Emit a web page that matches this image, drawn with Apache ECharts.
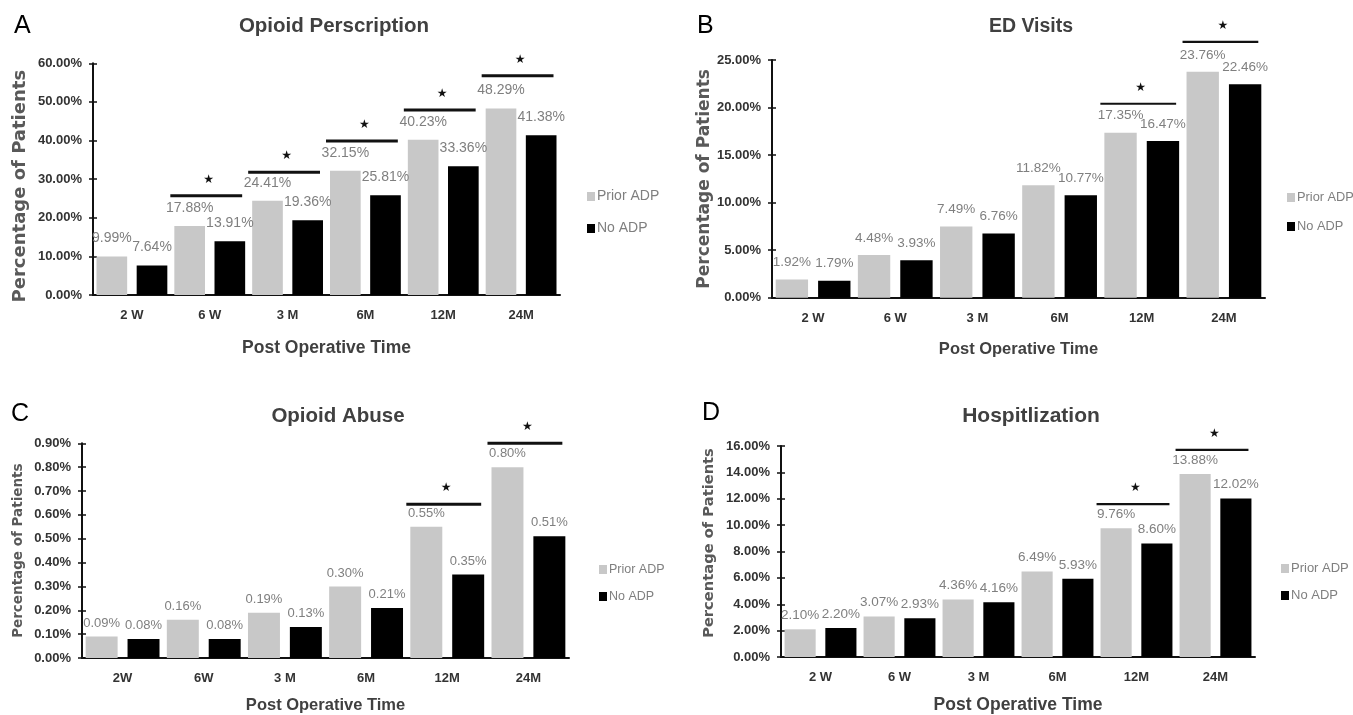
<!DOCTYPE html>
<html>
<head>
<meta charset="utf-8">
<script src="https://cdn.jsdelivr.net/npm/echarts@6/dist/echarts.min.js"></script>
<style>
html,body{margin:0;padding:0;background:#fff;}
#chart{width:1353px;height:715px;}
</style>
</head>
<body>
<div id="chart"></div>
<script>
// ---------- data ----------
const categories = ['2 W', '6 W', '3 M', '6M', '12M', '24M'];
const categoriesC = ['2W', '6W', '3 M', '6M', '12M', '24M'];
const seriesNames = ['Prior ADP', 'No ADP'];

const titles = ['Opioid Perscription', 'ED Visits', 'Opioid Abuse', 'Hospitlization'];
const panelLetters = ['A', 'B', 'C', 'D'];

const rxPrior = [9.99, 17.88, 24.41, 32.15, 40.23, 48.29];
const rxNone = [7.64, 13.91, 19.36, 25.81, 33.36, 41.38];

const edPrior = [1.92, 4.48, 7.49, 11.82, 17.35, 23.76];
const edNone = [1.79, 3.93, 6.76, 10.77, 16.47, 22.46];

const abusePrior = [0.09, 0.16, 0.19, 0.30, 0.55, 0.80];
const abuseNone = [0.08, 0.08, 0.13, 0.21, 0.35, 0.51];

const hospPrior = [2.10, 3.07, 4.36, 6.49, 9.76, 13.88];
const hospNone = [2.20, 2.93, 4.16, 5.93, 8.60, 12.02];

// y-axis tick ranges: max and step of each panel
const yMax = [60, 25, 0.9, 16];
const yStep = [10, 5, 0.1, 2];

// significance brackets: [category index, bracket level (% of patients)]
const sigA = [[1, 25.7], [2, 31.8], [3, 39.9], [4, 47.9], [5, 56.8]];
const sigB = [[4, 20.4], [5, 26.9]];
const sigC = [[4, 0.645], [5, 0.90]];
const sigD = [[4, 11.6], [5, 15.7]];

// ---------- layout ----------
const panels = [
  {cats: categories, prior: rxPrior, none: rxNone, sig: sigA, sigW: 3,
   grid: {left: 93, top: 63.3, width: 467, height: 231.7},
   title: {x: 329, y: 11, size: 20.5}, letter: {x: 9, y: 9},
   legend: {x: 582, y: 184.5, gap: 18, size: 14},
   label: {size: 14, dist: 11},
   yName: {gap: 64, size: 18, pad: [0, 14, 0, 0]}, xName: {gap: 44, size: 17.5}},
  {cats: categories, prior: edPrior, none: edNone, sig: sigB, sigW: 2.2,
   grid: {left: 772, top: 60, width: 493, height: 237.7},
   title: {x: 1026, y: 12, size: 19.5}, letter: {x: 692, y: 9},
   legend: {x: 1282, y: 186, gap: 16, size: 12.8},
   label: {size: 13.5, dist: 10},
   yName: {gap: 58, size: 17, pad: 0}, xName: {gap: 43, size: 16.5}},
  {cats: categoriesC, prior: abusePrior, none: abuseNone, sig: sigC, sigW: 3,
   grid: {left: 82, top: 443.3, width: 487, height: 220},
   title: {x: 333, y: 401, size: 20.5}, letter: {x: 6, y: 397},
   legend: {x: 594, y: 558, gap: 14, size: 12.5},
   label: {size: 13, dist: 7},
   yName: {gap: 57, size: 13.5, pad: 0}, xName: {gap: 39, size: 16.5}},
  {cats: categories, prior: hospPrior, none: hospNone, sig: sigD, sigW: 2.2,
   grid: {left: 781, top: 446, width: 474, height: 217.3},
   title: {x: 1026, y: 401, size: 21}, letter: {x: 697, y: 396},
   legend: {x: 1276, y: 557, gap: 14, size: 13},
   label: {size: 13.5, dist: 7},
   yName: {gap: 64, size: 14.7, pad: [0, 0, 0, 17]}, xName: {gap: 39, size: 17.5}}
];

const FONT = "'Liberation Sans', Arial, sans-serif";
const GRAY_BAR = '#c8c8c8';

function fmtPct(v) { return Number(v).toFixed(2) + '%'; }

function makeSigRenderer(lw) {
  return function (params, api) {
    const c = api.coord([api.value(0), api.value(1)]);
    const band = api.size([1, 0])[0];
    const half = band * 0.455;
    return {
      type: 'group',
      children: [
        {type: 'line', shape: {x1: c[0] - half - 4, y1: c[1], x2: c[0] + half - 3, y2: c[1]},
         style: {stroke: '#111', lineWidth: lw}},
        {type: 'text', x: c[0] - 1, y: c[1] - 16,
         style: {text: '★', fill: '#111', font: "12px 'DejaVu Sans', sans-serif",
                 textAlign: 'center', textVerticalAlign: 'middle'}}
      ]
    };
  };
}

const option = {
  backgroundColor: '#fff',
  animation: false,
  title: [], legend: [], grid: [], xAxis: [], yAxis: [], series: []
};

panels.forEach((p, i) => {
  option.title.push({
    text: titles[i], left: p.title.x, top: p.title.y, textAlign: 'center',
    textStyle: {fontFamily: FONT, fontWeight: 'bold', fontSize: p.title.size, color: '#404040'}
  });
  option.title.push({
    text: panelLetters[i], left: p.letter.x, top: p.letter.y,
    textStyle: {fontFamily: FONT, fontWeight: 'normal', fontSize: 25, color: '#000'}
  });
  option.legend.push({
    data: seriesNames, orient: 'vertical', left: p.legend.x, top: p.legend.y,
    itemWidth: 8, itemHeight: 9, itemGap: p.legend.gap, icon: 'rect',
    textStyle: {fontFamily: FONT, fontSize: p.legend.size, color: '#7f7f7f', padding: [0, 0, 0, -3]},
    selectedMode: false
  });
  option.grid.push(Object.assign({containLabel: false}, p.grid));
  option.xAxis.push({
    type: 'category', gridIndex: i, data: p.cats,
    name: 'Post Operative Time', nameLocation: 'middle', nameGap: p.xName.gap,
    nameTextStyle: {fontFamily: FONT, fontWeight: 'bold', fontSize: p.xName.size, color: '#404040'},
    axisLine: {lineStyle: {color: '#111', width: 2}},
    axisTick: {show: false},
    axisLabel: {fontFamily: FONT, fontWeight: 'bold', fontSize: 13, color: '#333', margin: 14},
    splitLine: {show: false}
  });
  option.yAxis.push({
    type: 'value', gridIndex: i, position: 'left', min: 0, max: yMax[i], interval: yStep[i],
    name: 'Percentage of Patients', nameLocation: 'middle', nameGap: p.yName.gap,
    nameTextStyle: {fontFamily: "'DejaVu Sans', sans-serif", fontWeight: 'bold',
                    fontSize: p.yName.size, color: '#595959', padding: p.yName.pad},
    axisLine: {show: true, lineStyle: {color: '#111', width: 2}},
    axisTick: {show: true, length: 4, lineStyle: {color: '#111', width: 1.5}},
    axisLabel: {fontFamily: FONT, fontWeight: 'bold', fontSize: 13, color: '#333', margin: 11,
                formatter: fmtPct},
    splitLine: {show: false}
  });
  const labelCfg = {show: true, position: 'top', distance: p.label.dist,
                    formatter: (d) => fmtPct(d.value),
                    fontFamily: FONT, fontSize: p.label.size, color: '#7f7f7f'};
  option.series.push({
    name: seriesNames[0], type: 'bar', xAxisIndex: i, yAxisIndex: i, data: p.prior,
    itemStyle: {color: GRAY_BAR}, barGap: '31%', barCategoryGap: '9%', label: labelCfg
  });
  option.series.push({
    name: seriesNames[1], type: 'bar', xAxisIndex: i, yAxisIndex: i, data: p.none,
    itemStyle: {color: '#000'}, barGap: '31%', barCategoryGap: '9%', label: labelCfg
  });
  option.series.push({
    type: 'custom', xAxisIndex: i, yAxisIndex: i, data: p.sig, renderItem: makeSigRenderer(p.sigW),
    clip: false, silent: true, z: 5
  });
});

// inner half of the crossing tick marks on each value axis
panels.forEach((p, i) => {
  option.yAxis.push({
    type: 'value', gridIndex: i, position: 'left', offset: 0,
    min: 0, max: yMax[i], interval: yStep[i],
    axisLine: {show: false},
    axisTick: {show: true, inside: true, length: 4, lineStyle: {color: '#111', width: 1.5}},
    axisLabel: {show: false}, splitLine: {show: false}
  });
});

const chart = echarts.init(document.getElementById('chart'), null, {renderer: 'canvas'});
chart.setOption(option);
</script>
</body>
</html>
